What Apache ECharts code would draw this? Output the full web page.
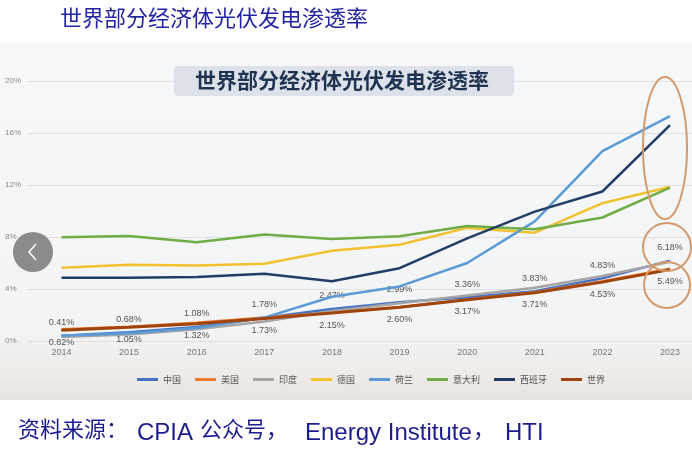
<!DOCTYPE html>
<html>
<head>
<meta charset="utf-8">
<script src="https://cdn.jsdelivr.net/npm/echarts@6/dist/echarts.min.js"></script>
<style>
html,body{margin:0;padding:0;background:#fff;}
#c{width:692px;height:449px;}
</style>
</head>
<body>
<div id="c"></div>
<script>
var years = ['2014','2015','2016','2017','2018','2019','2020','2021','2022','2023'];
var yTicks = [0, 4, 8, 12, 16, 20];
var seriesNames = ['中国','美国','印度','德国','荷兰','意大利','西班牙','世界'];
var china   = [0.41,0.68,1.08,1.78,2.47,2.99,3.36,3.83,4.83,6.18];
var usa     = [0.9,1.1,1.4,1.8,2.2,2.6,3.2,3.75,4.6,5.55];
var india   = [0.3,0.5,0.9,1.5,2.3,2.9,3.5,4.1,5.0,6.1];
var germany = [5.64,5.87,5.8,5.95,6.95,7.4,8.7,8.33,10.6,11.87];
var nether  = [0.4,0.6,1.0,1.8,3.4,4.2,6.0,9.2,14.6,17.3];
var italy   = [7.98,8.08,7.6,8.2,7.85,8.05,8.85,8.6,9.5,11.8];
var spain   = [4.87,4.87,4.92,5.18,4.6,5.6,7.9,9.95,11.5,16.6];
var world   = [0.82,1.05,1.32,1.73,2.15,2.60,3.17,3.71,4.53,5.49];

var dataList = [china, usa, india, germany, nether, italy, spain, world];
var colors = ['#4472c4','#ed7d31','#a5a5a5','#f2c12e','#5b9bd5','#70ad47','#233e66','#a0440e'];

var chart = echarts.init(document.getElementById('c'));

var labelFont = { fontSize: 9, color: '#555', fontFamily: 'Liberation Sans',
  formatter: function(p){ return Number(p.value).toFixed(2) + '%'; } };

var series = seriesNames.map(function(n, i){
  var s = {
    name: n,
    type: 'line',
    xAxisIndex: 1, yAxisIndex: 1,
    data: dataList[i],
    symbol: 'none',
    smooth: false,
    lineStyle: { width: (n === '世界' ? 3 : 2.5), color: colors[i] },
    itemStyle: { color: colors[i] },
    z: 3 + i
  };
  if (n === '中国' || n === '世界') {
    s.symbol = 'circle';
    s.symbolSize = 1;
    s.showSymbol = true;
    s.label = Object.assign({ show: true, position: n === '中国' ? 'top' : 'bottom', distance: n === '中国' ? 8 : 7 }, labelFont);
  }
  return s;
});

var arcStyle = { fill: 'none', stroke: '#d39a6c', lineWidth: 2 };
var srcColor = '#1c1c90';

var option = {
  backgroundColor: '#ffffff',
  animation: false,
  color: colors,
  grid: [
    { left: 28, right: 0, top: 81, bottom: 108 },
    { left: 61.5, right: 22, top: 81, bottom: 108 }
  ],
  graphic: [
    { type: 'rect', z: -10, silent: true, shape: { x: 0, y: 43, width: 692, height: 357 },
      style: { fill: new echarts.graphic.LinearGradient(0, 0, 0, 1, [
        { offset: 0, color: '#f7f8fa' },
        { offset: 0.8, color: '#f3f4f5' },
        { offset: 0.93, color: '#eeebe8' },
        { offset: 1, color: '#e8e2de' }
      ]) } },
    { type: 'rect', z: 1, silent: true, shape: { x: 174, y: 66, width: 340, height: 30, r: 4 },
      style: { fill: '#dde2ea' } },
    { type: 'text', z: 2, left: 195, top: 70, style: { text: '世界部分经济体光伏发电渗透率', fill: '#1f3350', font: 'bold 21px "Noto Sans CJK SC"' } },
    { type: 'text', left: 60, top: 7, style: { text: '世界部分经济体光伏发电渗透率', fill: '#2424a4', font: '22px "Noto Sans CJK SC"' } },
    { type: 'text', left: 18, top: 418, style: { text: '资料来源：', fill: srcColor, font: '22px "Noto Sans CJK SC"' } },
    { type: 'text', left: 137, top: 421, style: { text: 'CPIA', fill: srcColor, font: '24px "Liberation Sans"' } },
    { type: 'text', left: 200, top: 418, style: { text: '公众号，', fill: srcColor, font: '22px "Noto Sans CJK SC"' } },
    { type: 'text', left: 305, top: 421, style: { text: 'Energy Institute', fill: srcColor, font: '24px "Liberation Sans"' } },
    { type: 'text', left: 473, top: 418, style: { text: '，', fill: srcColor, font: '22px "Noto Sans CJK SC"' } },
    { type: 'text', left: 505, top: 421, style: { text: 'HTI', fill: srcColor, font: '24px "Liberation Sans"' } },
    { type: 'ellipse', z: 20, silent: true, shape: { cx: 665, cy: 148, rx: 22, ry: 71 }, style: arcStyle },
    { type: 'circle', z: 20, silent: true, shape: { cx: 667, cy: 247, r: 24 }, style: arcStyle },
    { type: 'circle', z: 20, silent: true, shape: { cx: 667, cy: 285, r: 23 }, style: arcStyle },
    { type: 'circle', z: 30, silent: true, shape: { cx: 33, cy: 252, r: 20 },
      style: { fill: 'rgba(120,120,120,0.85)' } },
    { type: 'polyline', z: 31, silent: true, shape: { points: [[36, 244], [29, 252], [36, 260]] },
      style: { fill: 'none', stroke: '#ffffff', lineWidth: 1.5 } }
  ],
  legend: {
    data: seriesNames,
    left: 132, top: 370,
    icon: 'rect',
    itemWidth: 21, itemHeight: 3, itemGap: 14,
    textStyle: { fontSize: 9, color: '#555', fontFamily: 'Noto Sans CJK SC' }
  },
  xAxis: [
    { type: 'category', gridIndex: 0, data: years, show: false },
    {
      type: 'category', gridIndex: 1,
      data: years,
      boundaryGap: false,
      axisLine: { show: false },
      axisTick: { show: false },
      axisLabel: { fontSize: 9, color: '#777', margin: 7, fontFamily: 'Liberation Sans' }
    }
  ],
  yAxis: [
    {
      type: 'value', gridIndex: 0,
      min: yTicks[0], max: yTicks[yTicks.length - 1], interval: 4,
      axisLine: { show: false },
      axisTick: { show: false },
      axisLabel: { formatter: '{value}%', fontSize: 8, color: '#888', align: 'left', margin: 23, fontFamily: 'Liberation Sans' },
      splitLine: { lineStyle: { color: '#e0e0e0', width: 1 } }
    },
    {
      type: 'value', gridIndex: 1,
      min: yTicks[0], max: yTicks[yTicks.length - 1], interval: 4,
      show: false,
      splitLine: { show: false }
    }
  ],
  series: series
};
chart.setOption(option);
</script>
</body>
</html>
